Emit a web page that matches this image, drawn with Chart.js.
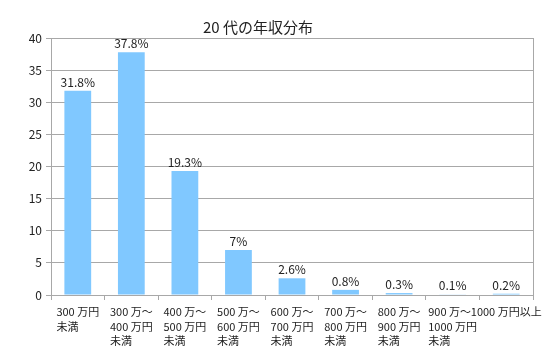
<!DOCTYPE html>
<html><head><meta charset="utf-8">
<script src="https://cdn.jsdelivr.net/npm/chart.js@4"></script>
<style>html,body{margin:0;padding:0;background:#fff}</style>
</head><body>
<canvas id="c" width="553" height="352"></canvas>
<script>
const chartTitle = '20 代の年収分布';
const categories = [
  ['300 万円','未満'],
  ['300 万～','400 万円','未満'],
  ['400 万～','500 万円','未満'],
  ['500 万～','600 万円','未満'],
  ['600 万～','700 万円','未満'],
  ['700 万～','800 万円','未満'],
  ['800 万～','900 万円','未満'],
  ['900 万～','1000 万円','未満'],
  ['1000 万円以上']
];
const values = [31.8, 37.8, 19.3, 7, 2.6, 0.8, 0.3, 0.1, 0.2];
const valueLabels = ['31.8%','37.8%','19.3%','7%','2.6%','0.8%','0.3%','0.1%','0.2%'];
const yMin = 0, yMax = 40, yStep = 5;

const FONT = '"Noto Sans CJK JP", "Noto Sans", sans-serif';
const GRID = '#A8A8A8';

const customDraw = {
  id: 'customDraw',
  afterDraw(chart) {
    const ctx = chart.ctx, area = chart.chartArea, xs = chart.scales.x;
    ctx.save();
    // right border
    ctx.strokeStyle = GRID; ctx.lineWidth = 1;
    ctx.beginPath();
    ctx.moveTo(Math.round(area.right) + 0.5, area.top);
    ctx.lineTo(Math.round(area.right) + 0.5, area.bottom);
    ctx.stroke();
    // title
    ctx.fillStyle = '#222';
    ctx.font = '15px ' + FONT;
    ctx.textAlign = 'center'; ctx.textBaseline = 'middle';
    ctx.fillText(chartTitle, 258, 27);
    // value labels
    ctx.font = '12px ' + FONT;
    ctx.textBaseline = 'alphabetic';
    const meta = chart.getDatasetMeta(0);
    meta.data.forEach((el, i) => {
      ctx.fillText(valueLabels[i], el.x, el.y - 4);
    });
    // category labels: block centred, lines left-aligned
    ctx.font = '11px ' + FONT;
    ctx.textAlign = 'left'; ctx.textBaseline = 'middle';
    categories.forEach((lines, i) => {
      const cx = xs.getPixelForValue(i);
      const w = Math.max(...lines.map(l => ctx.measureText(l).width));
      const left = cx - w / 2;
      lines.forEach((l, j) => ctx.fillText(l, left, area.bottom + 17 + j * 14.5));
    });
    ctx.restore();
  }
};

new Chart(document.getElementById('c'), {
  type: 'bar',
  data: {
    labels: categories,
    datasets: [{
      data: values,
      backgroundColor: '#80C8FF',
      borderWidth: 0,
      barPercentage: 0.5,
      categoryPercentage: 1.0
    }]
  },
  options: {
    responsive: false,
    animation: false,
    devicePixelRatio: 1,
    layout: { padding: { top: 38, right: 20, left: 0, bottom: 0 } },
    plugins: { legend: { display: false }, title: { display: false }, tooltip: { enabled: false } },
    scales: {
      x: {
        grid: { display: true, drawOnChartArea: false, drawTicks: true, tickLength: 5, color: GRID, offset: true },
        border: { color: GRID },
        ticks: { color: 'rgba(0,0,0,0)', font: { size: 11, family: FONT }, maxRotation: 0, autoSkip: false },
        afterFit: s => { s.height = 57; }
      },
      y: {
        min: yMin, max: yMax,
        ticks: { stepSize: yStep, color: '#222', font: { size: 12, family: FONT }, padding: 4 },
        grid: { color: GRID, tickLength: 5 },
        border: { color: GRID },
        afterFit: s => { s.width = 51; }
      }
    }
  },
  plugins: [customDraw]
});
</script>
</body></html>
